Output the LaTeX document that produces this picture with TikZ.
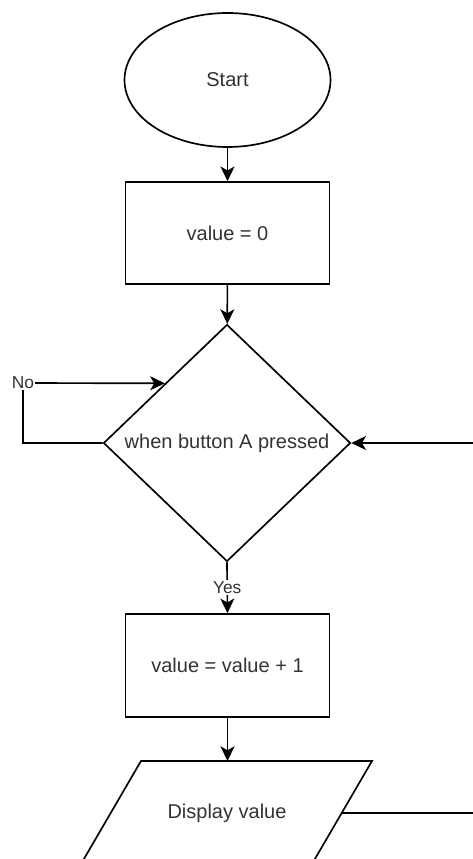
\documentclass[tikz,border=0pt]{standalone}
\usepackage{fontspec}
\setmainfont{Liberation Sans}
\usetikzlibrary{shapes.geometric,arrows.meta,calc}
\definecolor{txt}{HTML}{333333}
\begin{document}
\begin{tikzpicture}[x=0.75pt,y=-0.75pt,
  shapebox/.style={draw=black,line width=1.25pt,text=txt,font=\fontsize{15}{18}\selectfont,inner sep=0pt},
  lbl/.style={fill=white,text=txt,font=\fontsize{13}{15}\selectfont,inner sep=1pt},
  arr/.style={draw=black,line width=1.25pt,-{Stealth[length=11pt,width=10.5pt,inset=3pt]}},
  plain/.style={draw=black,line width=1.25pt}]
\useasboundingbox (0,0) rectangle (473,859);
\clip (0,0) rectangle (473,859);
\fill[white] (0,0) rectangle (473,859);
% shapes
\node[shapebox,ellipse,minimum width=154.5pt,minimum height=100.5pt] (start) at (227.5,80) {Start};
\node[shapebox,rectangle,minimum width=153pt,minimum height=76.5pt] (init) at (227.5,233) {value = 0};
\node[shapebox,diamond,minimum width=185.25pt,minimum height=177.75pt] (dec) at (227,443) {when button A pressed};
\node[shapebox,rectangle,minimum width=153pt,minimum height=77.25pt] (inc) at (227.5,665.5) {value = value + 1};
\draw[plain] (141,761) -- (372,761) -- (311.4,865) -- (80.4,865) -- cycle;
\node[text=txt,font=\fontsize{15}{18}\selectfont,inner sep=0pt] (disp) at (227,813) {Display value};
% coordinates
\coordinate (ptop) at (227.5,761);
\coordinate (pr) at (342,813);
\coordinate (loopc) at (520,813);
\coordinate (nocorner) at (23,383);
\coordinate (noend) at ($(dec.north)!0.5!(dec.west)$);
% connectors
\draw[arr] (start) -- (init);
\draw[arr] (init) -- (dec);
\draw[arr] (dec.west) -| (nocorner) -- (noend);
\node[lbl] (nolbl) at (nocorner) {No};
\draw[arr] (dec.south) -- (inc.north) node[lbl,pos=0.5] (yeslbl) {Yes};
\draw[arr] (inc) -- (ptop);
\draw[arr] (pr) -- (loopc) |- (dec.east);
\end{tikzpicture}
\end{document}
